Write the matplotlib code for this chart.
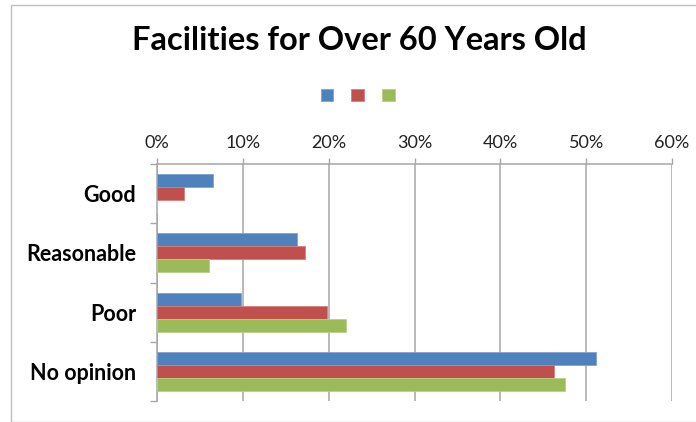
import matplotlib
matplotlib.use("Agg")
import matplotlib.pyplot as plt
from matplotlib.patches import Rectangle, Patch
import numpy as np

plt.rcParams['font.family'] = ['Lato', 'DejaVu Sans']

categories = ["Good", "Reasonable", "Poor", "No opinion"]
series_blue = [6.5, 16.3, 9.8, 51.2]
series_red = [3.1, 17.3, 19.8, 46.2]
series_green = [0.0, 6.1, 22.0, 47.5]
series_values = [series_blue, series_red, series_green]
series_colors = ["#4F81BD", "#C0504D", "#9BBB59"]
series_edges = ["#7FA3D3", "#D57F7C", "#B7D08A"]
x_ticks = [0, 10, 20, 30, 40, 50, 60]
x_tick_labels = ["0%", "10%", "20%", "30%", "40%", "50%", "60%"]

W, H = 696, 422
fig = plt.figure(figsize=(W / 100, H / 100), dpi=100)

# chart-area border
fig.patches.append(Rectangle((11 / W, 0.5 / H), 1.0, (421.5 - 0.5) / H - 4.5 / H,
                             transform=fig.transFigure, fill=False,
                             edgecolor="#BDBDBD", linewidth=1.0))

ax = fig.add_axes([157 / W, 1 - 401 / H, (672 - 157) / W, (401 - 164) / H])

n = len(series_values)
bar_h = 0.22
y = np.arange(len(categories))
for i, (vals, c, ec) in enumerate(zip(series_values, series_colors, series_edges)):
    offs = (i - (n - 1) / 2) * bar_h
    ax.barh(y + offs, vals, height=bar_h, color=c, edgecolor=ec, linewidth=0.6, zorder=3)

ax.set_xlim(0, 60)
ax.set_ylim(len(categories) - 0.5, -0.5)

ax.xaxis.tick_top()
ax.set_xticks(x_ticks)
ax.set_xticklabels(x_tick_labels, fontsize=13, color="#222222")
ax.tick_params(axis="x", which="major", length=4, width=1.0, color="#A6A6A6", pad=5)

ax.set_yticks(np.arange(-0.5, len(categories), 1.0))
ax.set_yticklabels([])
ax.set_yticks(y, minor=True)
ax.set_yticklabels(categories, minor=True, fontsize=15.5, fontweight="bold")
ax.tick_params(axis="y", which="major", length=5, width=1.0, color="#A6A6A6")
ax.tick_params(axis="y", which="minor", length=0, pad=15)

ax.grid(axis="x", color="#A6A6A6", linewidth=1.1, zorder=0)
for s in ["bottom", "right"]:
    ax.spines[s].set_visible(False)
for s in ["top", "left"]:
    ax.spines[s].set_color("#A6A6A6")
    ax.spines[s].set_linewidth(1.1)

fig.text(359 / W, 1 - 40 / H, "Facilities for Over 60 Years Old", ha="center", va="center",
         fontsize=23.5, fontweight="bold", color="black")

handles = [Patch(facecolor=c, edgecolor=ec, linewidth=0.6) for c, ec in zip(series_colors, series_edges)]
fig.legend(handles, ["", "", ""], loc="center", bbox_to_anchor=(361 / W, 1 - 96 / H),
           ncol=3, frameon=False, fontsize=12, handlelength=0.75, handleheight=0.75,
           handletextpad=0.4, columnspacing=0.7, borderaxespad=0, borderpad=0)

fig.savefig("out.png", dpi=100)
